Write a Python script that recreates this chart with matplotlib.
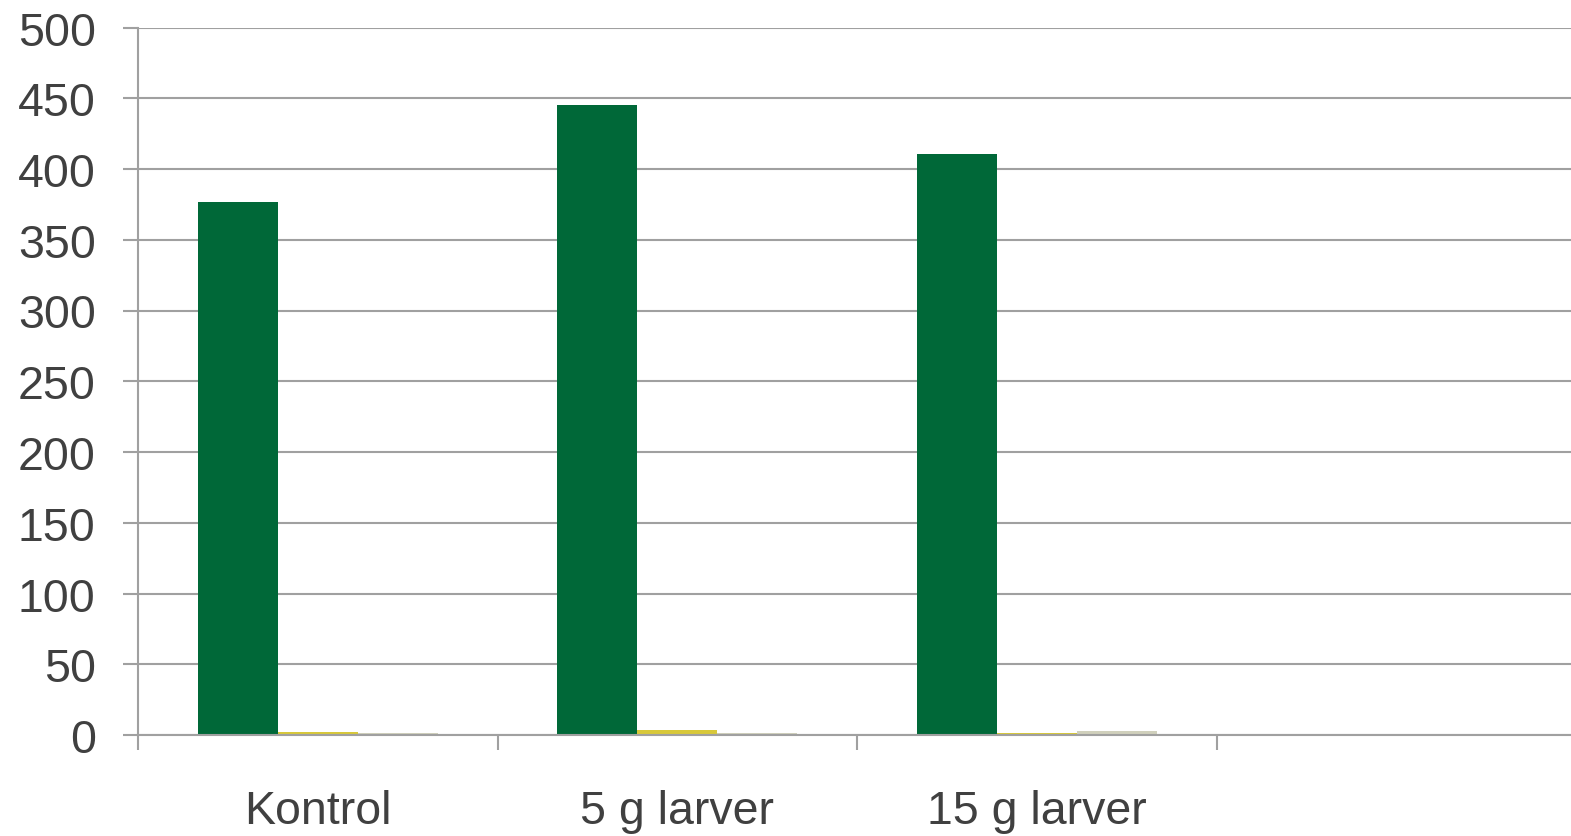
import matplotlib
matplotlib.use("Agg")
import matplotlib.pyplot as plt
import numpy as np

categories = ["Kontrol", "5 g larver", "15 g larver", ""]
series_green = [376.5, 445.5, 410.5, 0]
series_yellow = [2.0, 3.7, 1.3, 0]
series_gray = [1.5, 1.5, 2.5, 0]
yticks = [0, 50, 100, 150, 200, 250, 300, 350, 400, 450, 500]

W, H = 1571, 837
fig = plt.figure(figsize=(W / 100, H / 100), dpi=100)
left = 138 / W
bottom = (H - 736) / H
width = 1438 / W
height = 707.5 / H
ax = fig.add_axes([left, bottom, width, height])

plt.rcParams['font.family'] = ['Liberation Sans', 'DejaVu Sans']

x = np.arange(len(categories))
bw = 0.2225
ax.bar(x - bw, series_green, width=bw, color="#006838", zorder=3)
ax.bar(x, series_yellow, width=bw, color="#d8c83a", zorder=3)
ax.bar(x + bw, series_gray, width=bw, color="#d0d0bc", zorder=3)

ax.set_xlim(-0.5, 3.5)
ax.set_ylim(0, 500)
ax.set_yticks(yticks)
ax.set_yticklabels([str(v) for v in yticks], fontsize=33.5, color="#404040",
                   family=['Liberation Sans', 'DejaVu Sans'])
ax.set_xticks(x)
ax.set_xticklabels(categories, fontsize=33.5, color="#404040",
                   family=['Liberation Sans', 'DejaVu Sans'])
ax.tick_params(axis='x', length=0, pad=39)
ax.set_xticks(np.arange(-0.5, 4.0, 1.0), minor=True)
ax.tick_params(axis='x', which='minor', length=10.5, width=1.5, color="#a0a0a0", direction='out')
ax.tick_params(axis='y', length=10.5, width=1.5, color="#a0a0a0", direction='out', pad=20)

ax.grid(axis='y', color="#a0a0a0", linewidth=1.5, zorder=0)
for s in ["top", "right"]:
    ax.spines[s].set_visible(False)
ax.spines["left"].set_color("#a0a0a0")
ax.spines["left"].set_linewidth(1.5)
ax.spines["bottom"].set_color("#a0a0a0")
ax.spines["bottom"].set_linewidth(1.5)
ax.spines["bottom"].set_zorder(4)

fig.savefig("out.png", dpi=100)
